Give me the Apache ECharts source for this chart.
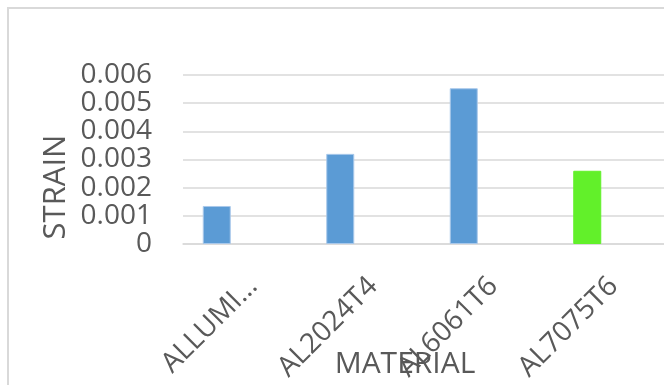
<!DOCTYPE html>
<html>
<head>
<meta charset="utf-8">
<script src="https://cdn.jsdelivr.net/npm/echarts@6/dist/echarts.min.js"></script>
<style>
  html, body { margin: 0; padding: 0; background: #fff; }
  #main { width: 664px; height: 385px; }
</style>
</head>
<body>
<div id="main"></div>
<script>
// chart data
var categories = ['ALLUMINIUM', 'AL2024T4', 'AL6061T6', 'AL7075T6'];
var strainValues = [0.00135, 0.0032, 0.00553, 0.0026];
var barColors = ['#5b9bd5', '#5b9bd5', '#5b9bd5', '#62f02a'];
var yTicks = [0, 0.001, 0.002, 0.003, 0.004, 0.005, 0.006];

var txt = '#595959';
var grey = '#d9d9d9';
var font = 'Open Sans';

var myChart = echarts.init(document.getElementById('main'));

var option = {
  animation: false,
  backgroundColor: '#fff',
  // grid 0 carries gridlines + labels, grid 1 carries the bars (shifted left like excel clustered bars)
  grid: [
    { left: 183, top: 75, width: 494, height: 169 },
    { left: 155, top: 75, width: 494, height: 169 }
  ],
  graphic: [
    {
      type: 'rect',
      shape: { x: 8, y: 8, width: 700, height: 420 },
      style: { fill: 'none', stroke: grey, lineWidth: 2 },
      silent: true
    },
    {
      type: 'text',
      x: 56, y: 187,
      rotation: Math.PI / 2,
      style: {
        text: 'STRAIN', fill: txt, font: '31px "Open Sans"',
        align: 'center', verticalAlign: 'middle'
      }
    },
    {
      type: 'text',
      x: 405, y: 364,
      style: {
        text: 'MATERIAL', fill: txt, font: '30px "Open Sans"',
        align: 'center', verticalAlign: 'middle'
      }
    }
  ],
  xAxis: [
    {
      type: 'category',
      gridIndex: 0,
      data: categories,
      axisLine: { show: true, lineStyle: { color: grey, width: 1.5 } },
      axisTick: { show: false },
      axisLabel: {
        rotate: 45,
        interval: 0,
        margin: 28,
        verticalAlign: 'top',
        color: txt,
        fontFamily: font,
        fontSize: 28,
        formatter: function (v) {
          return v.length > 9 ? v.slice(0, 6) + '…' : v;
        }
      }
    },
    {
      type: 'category',
      gridIndex: 1,
      data: categories,
      show: false
    }
  ],
  yAxis: [
    {
      type: 'value',
      gridIndex: 0,
      min: 0,
      max: 0.006,
      interval: 0.001,
      axisLine: { show: false },
      axisTick: { show: false },
      splitLine: { lineStyle: { color: grey, width: 1.5 } },
      axisLabel: {
        margin: 31,
        color: txt,
        fontFamily: font,
        fontSize: 28,
        formatter: function (v) {
          var t = yTicks.find(function (k) { return Math.abs(k - v) < 1e-9; });
          return t === 0 ? '0' : String(t);
        }
      }
    },
    {
      type: 'value',
      gridIndex: 1,
      min: 0,
      max: 0.006,
      interval: 0.001,
      show: false,
      splitLine: { show: false }
    }
  ],
  series: [
    {
      name: 'STRAIN',
      type: 'bar',
      xAxisIndex: 1,
      yAxisIndex: 1,
      barWidth: 28,
      data: strainValues.map(function (v, i) {
        return {
          value: v,
          itemStyle: { color: barColors[i], borderColor: i === 3 ? barColors[i] : '#a9c8ea', borderWidth: 1 }
        };
      })
    }
  ]
};

myChart.setOption(option);
</script>
</body>
</html>
